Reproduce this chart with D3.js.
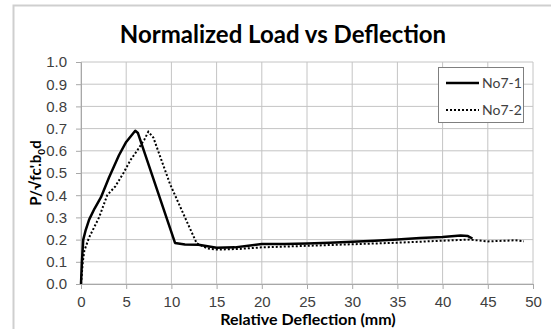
<!DOCTYPE html>
<html>
<head>
<meta charset="utf-8">
<script src="https://cdn.jsdelivr.net/npm/d3@7"></script>
<style>
  body { margin: 0; background: #fff; }
  svg { display: block; font-family: Lato, "Open Sans", sans-serif; }
</style>
</head>
<body>
<div class="canvas"></div>
<script>
// data: relative deflection (mm) vs normalized load
const defl1 = [0, 0.1, 0.25, 0.5, 0.9, 1.5, 2.2, 3.1, 4.2, 5.0, 5.6, 6.0, 6.3, 10.4, 11.5, 13.0, 14.0, 15.0, 17.0, 18.5, 20.0, 22.5, 25.0, 27.5, 30.0, 32.5, 35.0, 37.5, 40.0, 42.0, 42.8, 43.3];
const load1 = [0, 0.1, 0.2, 0.24, 0.29, 0.34, 0.39, 0.48, 0.58, 0.64, 0.67, 0.69, 0.68, 0.185, 0.178, 0.177, 0.17, 0.163, 0.165, 0.172, 0.18, 0.18, 0.182, 0.186, 0.19, 0.195, 0.2, 0.207, 0.212, 0.218, 0.216, 0.205];

const defl2 = [0, 0.2, 0.37, 0.9, 2.0, 2.9, 3.8, 4.7, 5.5, 6.2, 7.0, 7.45, 8.0, 9.85, 11.5, 12.8, 14.0, 15.0, 17.5, 20.0, 25.0, 30.0, 35.0, 40.0, 43.0, 45.0, 47.0, 48.0, 49.0];
const load2 = [0, 0.1, 0.15, 0.21, 0.3, 0.4, 0.44, 0.5, 0.56, 0.6, 0.65, 0.686, 0.66, 0.45, 0.3, 0.183, 0.16, 0.155, 0.158, 0.165, 0.172, 0.179, 0.186, 0.195, 0.2, 0.192, 0.195, 0.197, 0.192];

const seriesNames = ['No7-1', 'No7-2'];
const xTicks = d3.range(0, 51, 5);
const yTicks = d3.range(0, 11).map(i => i / 10);

const width = 551, height = 329;
const margin = {top: 62, right: 18, bottom: 45, left: 81};
const graphWidth = width - margin.left - margin.right;
const graphHeight = height - margin.top - margin.bottom;

const svg = d3.select('.canvas')
  .append('svg')
    .attr('width', width)
    .attr('height', height);

// outer chart border (only top/left visible in the shot)
svg.append('rect')
  .attr('x', 13.5).attr('y', 5.5)
  .attr('width', width).attr('height', height)
  .attr('fill', 'none')
  .attr('stroke', '#cfcfcf')
  .attr('stroke-width', 2);

const graph = svg.append('g')
  .attr('transform', `translate(${margin.left},${margin.top})`);

// scales
const x = d3.scaleLinear().domain([0, 50]).range([0, graphWidth]);
const y = d3.scaleLinear().domain([0, 1]).range([graphHeight, 0]);

// gridlines
graph.append('g')
  .selectAll('line.h')
  .data(yTicks)
  .enter().append('line')
    .attr('x1', 0).attr('x2', graphWidth)
    .attr('y1', d => y(d)).attr('y2', d => y(d))
    .attr('stroke', '#c4c4c4');

graph.append('g')
  .selectAll('line.v')
  .data(xTicks)
  .enter().append('line')
    .attr('x1', d => x(d)).attr('x2', d => x(d))
    .attr('y1', 0).attr('y2', graphHeight)
    .attr('stroke', '#c4c4c4');

// axes
const xAxis = d3.axisBottom(x).tickValues(xTicks).tickSize(5).tickPadding(7);
const yAxis = d3.axisLeft(y).tickValues(yTicks).tickSize(5).tickPadding(9).tickFormat(d3.format('.1f'));

const xAxisGroup = graph.append('g')
  .attr('transform', `translate(0, ${graphHeight})`)
  .call(xAxis);
const yAxisGroup = graph.append('g').call(yAxis);

[xAxisGroup, yAxisGroup].forEach(g => {
  g.select('.domain').attr('stroke', '#a8a8a8');
  g.selectAll('.tick line').attr('stroke', '#a8a8a8');
  g.selectAll('.tick text')
    .attr('fill', '#404040')
    .style('font-size', '15px');
});

// lines
const line = d3.line()
  .x(d => x(d[0]))
  .y(d => y(d[1]));

const data1 = defl1.map((d, i) => [d, load1[i]]);
const data2 = defl2.map((d, i) => [d, load2[i]]);

graph.append('path')
  .datum(data2)
  .attr('d', line)
  .attr('fill', 'none')
  .attr('stroke', '#000')
  .attr('stroke-width', 2)
  .attr('stroke-dasharray', '2,2');

graph.append('path')
  .datum(data1)
  .attr('d', line)
  .attr('fill', 'none')
  .attr('stroke', '#000')
  .attr('stroke-width', 2.5)
  .attr('stroke-linejoin', 'round');

// legend
const legend = svg.append('g');
legend.append('rect')
  .attr('x', 438.5).attr('y', 67.5)
  .attr('width', 85).attr('height', 55)
  .attr('fill', '#fff')
  .attr('stroke', '#7f7f7f');

seriesNames.forEach((name, i) => {
  const ly = 83 + i * 27;
  legend.append('line')
    .attr('x1', 446).attr('x2', 479)
    .attr('y1', ly).attr('y2', ly)
    .attr('stroke', '#000')
    .attr('stroke-width', i === 0 ? 2.5 : 2)
    .attr('stroke-dasharray', i === 0 ? null : '2,2');
  legend.append('text')
    .attr('x', 482).attr('y', ly + 5)
    .attr('fill', '#404040')
    .style('font-size', '14px')
    .text(name);
});

// titles
svg.append('text')
  .attr('x', 283).attr('y', 43)
  .attr('text-anchor', 'middle')
  .style('font-size', '24px')
  .style('font-weight', 'bold')
  .text('Normalized Load vs Deflection');

svg.append('text')
  .attr('x', margin.left + graphWidth / 2 + 1).attr('y', 325)
  .attr('text-anchor', 'middle')
  .style('font-size', '16px')
  .style('font-weight', 'bold')
  .text('Relative Deflection (mm)');

const yLabel = svg.append('text')
  .attr('transform', `translate(41, ${margin.top + graphHeight / 2}) rotate(-90)`)
  .attr('text-anchor', 'middle')
  .style('font-size', '15px')
  .style('font-weight', 'bold');
yLabel.append('tspan').text("P/\u221Afc'.b");
yLabel.append('tspan').attr('dy', 4).style('font-size', '10px').text('0');
yLabel.append('tspan').attr('dy', -4).text('d');
</script>
</body>
</html>
